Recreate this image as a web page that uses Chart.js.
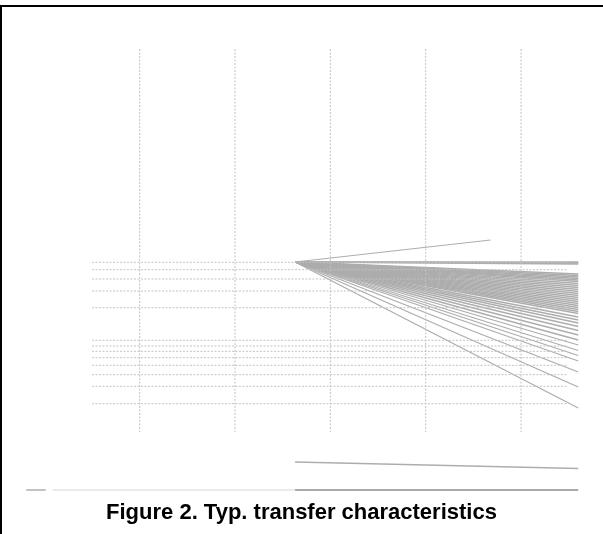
<!DOCTYPE html>
<html>
<head>
<meta charset="utf-8">
<script src="https://cdn.jsdelivr.net/npm/chart.js@4/dist/chart.umd.min.js"></script>
<style>
  html, body { margin: 0; padding: 0; background: #fff; }
  .frame { position: relative; width: 603px; height: 534px; overflow: hidden; }
  .frame:before {
    content: ''; position: absolute; left: 0; top: 5px; right: 0; bottom: 0;
    border-top: 2px solid #000; border-left: 2px solid #000;
  }
  canvas { position: absolute; left: 0; top: 0; }
</style>
</head>
<body>
<div class="frame"><canvas id="chartTransfer" width="603" height="534"></canvas></div>
<script>
// grid positions (x in V, y in arbitrary units)
const gridX = [1, 2, 3, 4, 5];
const gridYTop = 44.1;
const gridYBottom = 5.8;
const levelsY = [22.77, 22.03, 21.1, 19.9, 18.23, 14.97, 14.4, 13.87, 13.23, 12.47, 11.53, 10.37, 8.63];
const levelStartX = 0.5;
const levelEndX = 5.48;

// fan of curves starting from one point
const fanStart = { x: 2.63, y: 22.8 };
const fanEndX = 5.6;
const fanEndsY = [
  22.8, 22.7, 22.6,
  21.6, 21.45, 21.3, 21.15, 21.0, 20.85,
  20.65, 20.45, 20.25, 20.05, 19.85, 19.65, 19.45, 19.25, 19.05, 18.85, 18.65, 18.45, 18.25, 18.05, 17.85, 17.65,
  17.3, 17.0, 16.7, 16.35, 15.95, 15.5, 15.0, 14.5, 13.95, 13.45, 12.9, 11.8, 10.3, 8.2
];
const riseEnd = { x: 4.68, y: 25.0 };

// lower traces
const lowerTraceX = [2.63, 5.6];
const lowerTraceY = [2.8, 2.15];
const baseDashX = [-0.19, 0.015];
const baseLightX = [0.09, 2.63];
const baseDarkX = [2.63, 5.6];

const GRID = '#c2c2c2';
const CURVE = '#adadad';

const datasets = [];
const seg = (pts, color, width, dash) => datasets.push({
  data: pts, showLine: true, borderColor: color, borderWidth: width,
  borderDash: dash || [], pointRadius: 0, fill: false, tension: 0
});

gridX.forEach(x => seg([{ x, y: gridYTop }, { x, y: gridYBottom }], GRID, 1, [2, 1.5]));
levelsY.forEach(y => seg([{ x: levelStartX, y }, { x: levelEndX, y }], GRID, 1, [2, 1.5]));
fanEndsY.forEach(y => seg([fanStart, { x: fanEndX, y }], CURVE, 1.3));
seg([fanStart, riseEnd], CURVE, 1.2);
seg(lowerTraceX.map((x, i) => ({ x, y: lowerTraceY[i] })), CURVE, 1.3);
seg(baseDashX.map(x => ({ x, y: 0 })), '#888', 1.2);
seg(baseLightX.map(x => ({ x, y: 0 })), '#e4e4e4', 1.5);
seg(baseDarkX.map(x => ({ x, y: 0 })), '#aaaaaa', 2);

new Chart(document.getElementById('chartTransfer'), {
  type: 'scatter',
  data: { datasets },
  options: {
    responsive: false,
    animation: false,
    devicePixelRatio: 1,
    layout: { padding: 0 },
    plugins: {
      legend: { display: false },
      tooltip: { enabled: false },
      title: {
        display: true,
        position: 'bottom',
        text: 'Figure 2. Typ. transfer characteristics',
        color: '#000',
        font: { family: '"Liberation Sans", Arial, sans-serif', size: 22, weight: 'bold', lineHeight: 1.2 },
        padding: { top: 0, bottom: 8 }
      }
    },
    scales: {
      x: { type: 'linear', display: false, min: -0.4646, max: 5.8595 },
      y: { type: 'linear', display: false, min: -0.96, max: 49 }
    }
  }
});
</script>
</body>
</html>
